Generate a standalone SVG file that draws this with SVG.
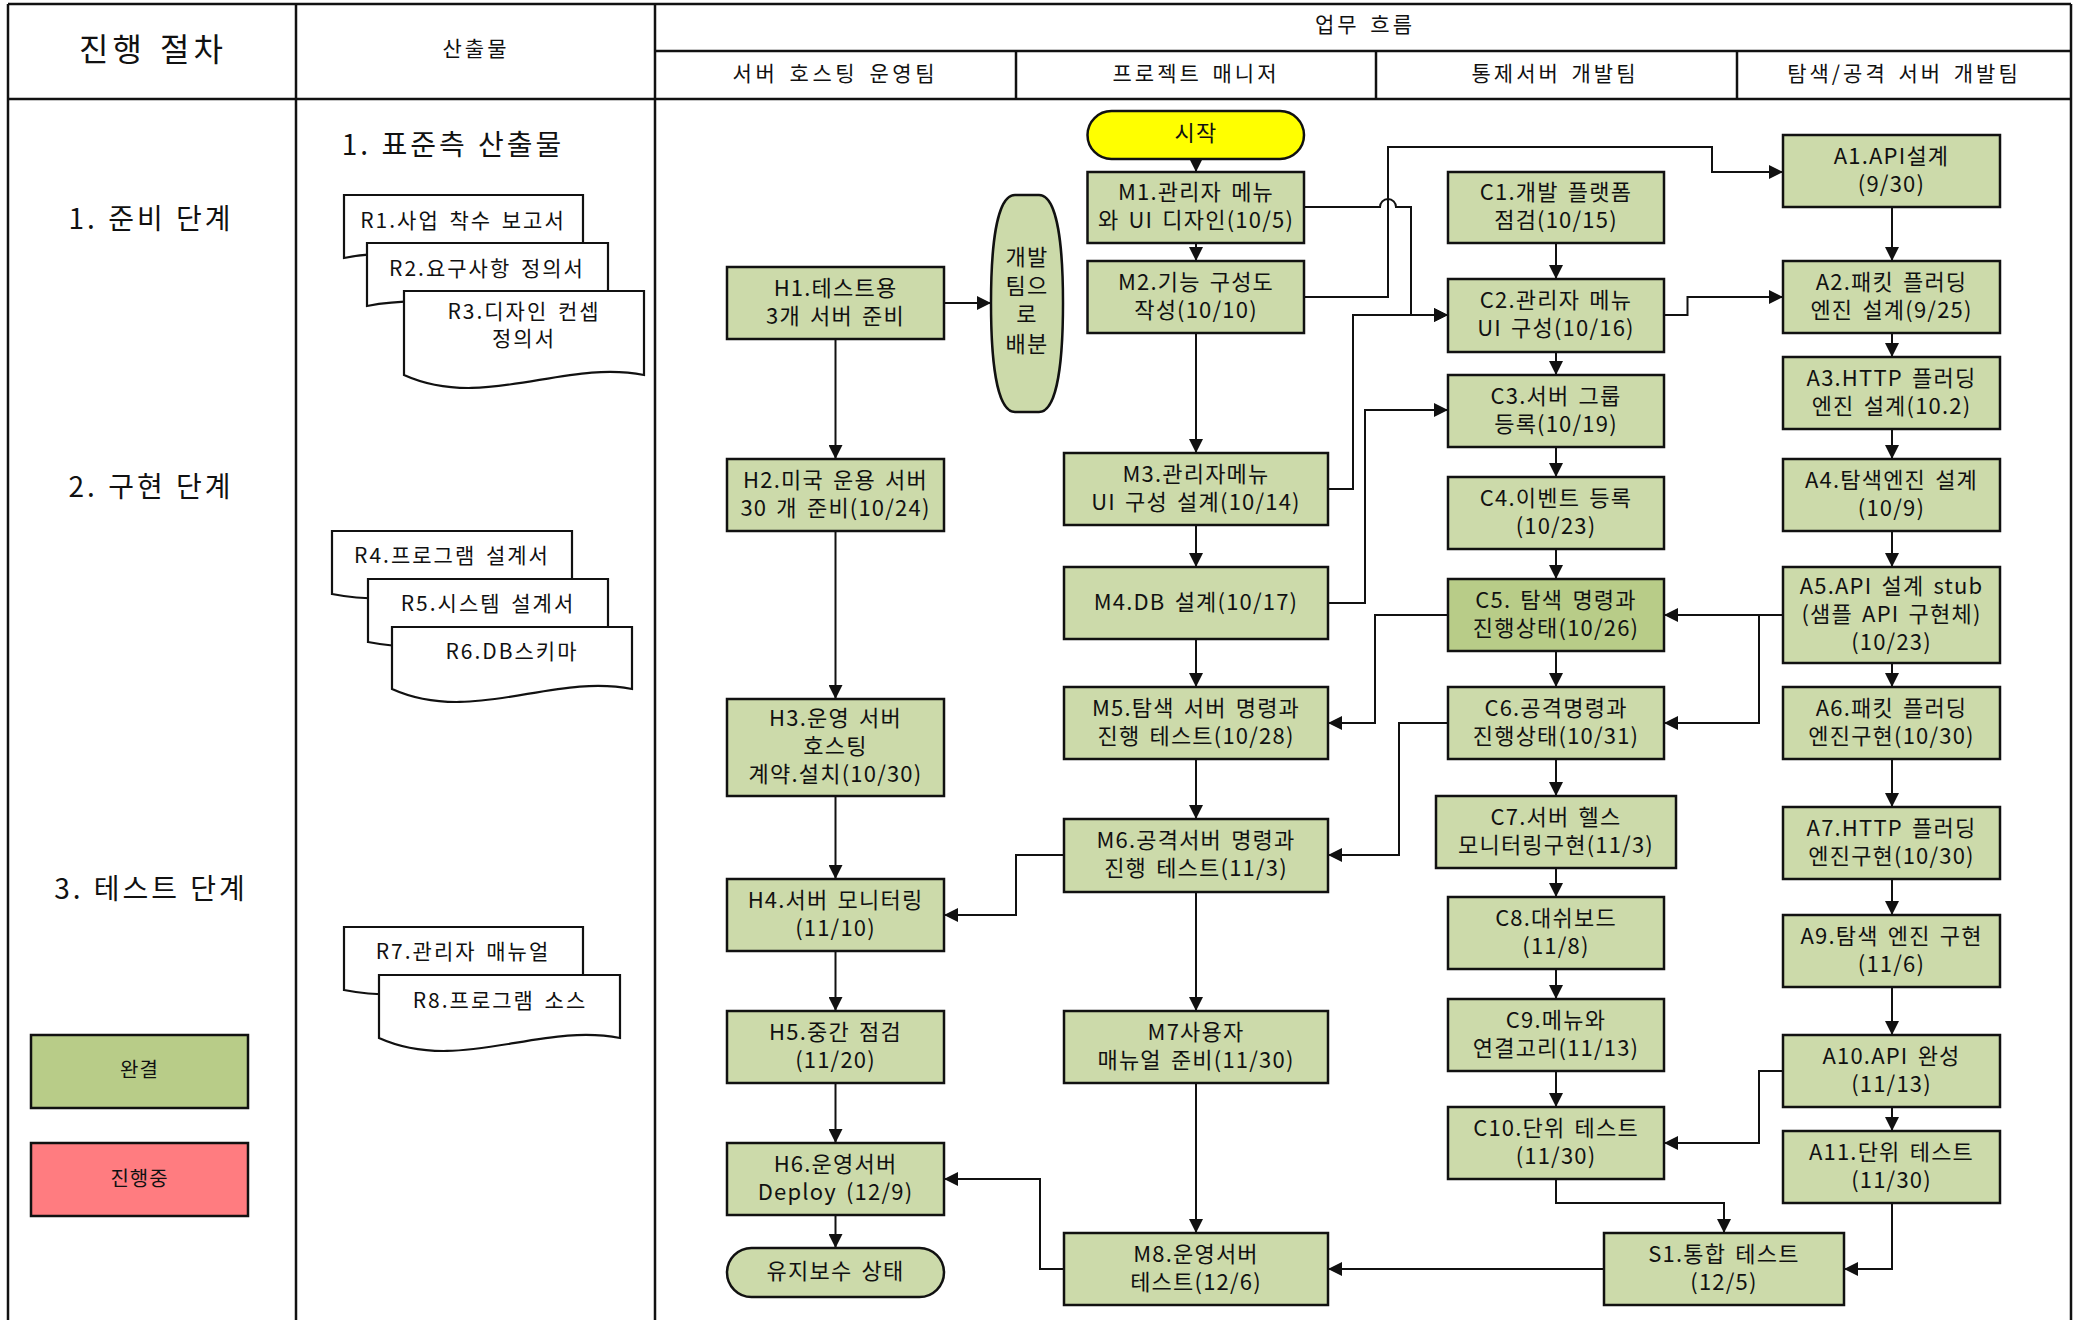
<svg xmlns="http://www.w3.org/2000/svg" width="2087" height="1320" viewBox="0 0 2087 1320">
<style>
.frame{fill:none;stroke:#111;stroke-width:2.5}
.box{fill:#ccdaaa;stroke:#111;stroke-width:2.5}
.done{fill:#b8cc88}
.prog{fill:#ff7c80}
.start{fill:#ffff00;stroke:#111;stroke-width:2.5}
.doc{fill:#fff;stroke:#111;stroke-width:2.2}
.c{fill:none;stroke:#111;stroke-width:2}
text{font-family:"Noto Sans CJK KR","Noto Sans",sans-serif;fill:#111;text-anchor:middle;dominant-baseline:central;transform:translateY(-3px)}
.t{font-size:22px;letter-spacing:1.2px;word-spacing:3px}
.h{font-size:21px;letter-spacing:3px;word-spacing:3px}
.big{font-size:28px;letter-spacing:3px;word-spacing:1px}
.title{font-size:32px;letter-spacing:4px;word-spacing:3px}
.r{font-size:21px;letter-spacing:2px;word-spacing:3px}
.lg{font-size:20px;letter-spacing:1px}
</style>
<defs>
<marker id="ah" markerUnits="userSpaceOnUse" markerWidth="14" markerHeight="14" refX="14" refY="7" orient="auto">
<path d="M0,0 L14,7 L0,14 Z" fill="#111"/>
</marker>
</defs>

<g id="frame">
<line class="frame" x1="8" y1="4" x2="2071" y2="4"/>
<line class="frame" x1="8" y1="99" x2="2071" y2="99"/>
<line class="frame" x1="655" y1="51" x2="2071" y2="51"/>
<line class="frame" x1="8" y1="4" x2="8" y2="1320"/>
<line class="frame" x1="296" y1="4" x2="296" y2="1320"/>
<line class="frame" x1="655" y1="4" x2="655" y2="1320"/>
<line class="frame" x1="2071" y1="4" x2="2071" y2="1320"/>
<line class="frame" x1="1016" y1="51" x2="1016" y2="99"/>
<line class="frame" x1="1376" y1="51" x2="1376" y2="99"/>
<line class="frame" x1="1737" y1="51" x2="1737" y2="99"/>
<text class="title" x="153" y="50">진행 절차</text>
<text class="h" x="476" y="50">산출물</text>
<text class="h" x="1365" y="26">업무 흐름</text>
<text class="h" x="835" y="75" textLength="205">서버 호스팅 운영팀</text>
<text class="h" x="1196" y="75">프로젝트 매니저</text>
<text class="h" x="1555" y="75">통제서버 개발팀</text>
<text class="h" x="1904" y="75">탐색/공격 서버 개발팀</text>
<text class="big" x="151" y="220">1. 준비 단계</text>
<text class="big" x="151" y="488">2. 구현 단계</text>
<text class="big" x="151" y="890">3. 테스트 단계</text>
<text class="big" x="453" y="146">1. 표준측 산출물</text>
</g>

<g id="legend">
<g id="legend-done"><rect class="box done" x="31" y="1035" width="217" height="73"/><text class="lg" x="139.5" y="1071">완결</text></g>
<g id="legend-progress"><rect class="box prog" x="31" y="1143" width="217" height="73"/><text class="lg" x="139.5" y="1180">진행중</text></g>
</g>

<g id="documents">
<g id="R1"><path class="doc" d="M344,258 V195 H583 V258 C503,274 424,242 344,258 Z"/><text class="r" x="463" y="222">R1.사업 착수 보고서</text></g>
<g id="R2"><path class="doc" d="M367,306 V243 H608 V306 C528,322 447,290 367,306 Z"/><text class="r" x="487" y="270">R2.요구사항 정의서</text></g>
<g id="R3"><path class="doc" d="M404,375 V291 H644 V375 C564,359 484,411 404,375 Z"/><text class="r" x="524" y="313">R3.디자인 컨셉</text><text class="r" x="524" y="340">정의서</text></g>
<g id="R4"><path class="doc" d="M332,594 V531 H572 V594 C492,578 412,610 332,594 Z"/><text class="r" x="452" y="557">R4.프로그램 설계서</text></g>
<g id="R5"><path class="doc" d="M368,642 V579 H608 V642 C528,626 448,658 368,642 Z"/><text class="r" x="488" y="605">R5.시스템 설계서</text></g>
<g id="R6"><path class="doc" d="M392,689 V627 H632 V689 C552,673 472,725 392,689 Z"/><text class="r" x="512" y="653">R6.DB스키마</text></g>
<g id="R7"><path class="doc" d="M344,990 V927 H583 V990 C503,974 424,1006 344,990 Z"/><text class="r" x="463" y="953">R7.관리자 매뉴얼</text></g>
<g id="R8"><path class="doc" d="M379,1038 V975 H620 V1038 C540,1022 459,1074 379,1038 Z"/><text class="r" x="500" y="1002">R8.프로그램 소스</text></g>
</g>

<g id="connectors">
<path class="c" marker-end="url(#ah)" d="M1196,159 V172"/>
<path class="c" marker-end="url(#ah)" d="M1196,243 V261"/>
<path class="c" marker-end="url(#ah)" d="M944,303 H991"/>
<path class="c" marker-end="url(#ah)" d="M835.5,339 V459"/>
<path class="c" marker-end="url(#ah)" d="M835.5,531 V699"/>
<path class="c" marker-end="url(#ah)" d="M835.5,796 V879"/>
<path class="c" marker-end="url(#ah)" d="M835.5,951 V1011"/>
<path class="c" marker-end="url(#ah)" d="M835.5,1083 V1143"/>
<path class="c" marker-end="url(#ah)" d="M835.5,1215 V1248"/>
<path class="c" marker-end="url(#ah)" d="M1196,333 V453"/>
<path class="c" marker-end="url(#ah)" d="M1196,525 V567"/>
<path class="c" marker-end="url(#ah)" d="M1196,639 V687"/>
<path class="c" marker-end="url(#ah)" d="M1196,759 V819"/>
<path class="c" marker-end="url(#ah)" d="M1196,892 V1011"/>
<path class="c" marker-end="url(#ah)" d="M1196,1083 V1233"/>
<path class="c" marker-end="url(#ah)" d="M1304,297 H1388 V147 H1712 V172 H1783"/>
<path class="c" marker-end="url(#ah)" d="M1304,207 H1380 A8,8 0 0 1 1396,207 H1411 V315 H1448"/>
<path class="c" marker-end="url(#ah)" d="M1328,489 H1353 V315 H1448"/>
<path class="c" marker-end="url(#ah)" d="M1328,603 H1365 V410 H1448"/>
<path class="c" marker-end="url(#ah)" d="M1556,243 V279"/>
<path class="c" marker-end="url(#ah)" d="M1556,352 V375"/>
<path class="c" marker-end="url(#ah)" d="M1556,447 V477"/>
<path class="c" marker-end="url(#ah)" d="M1556,549 V579"/>
<path class="c" marker-end="url(#ah)" d="M1556,651 V687"/>
<path class="c" marker-end="url(#ah)" d="M1556,759 V796"/>
<path class="c" marker-end="url(#ah)" d="M1556,868 V897"/>
<path class="c" marker-end="url(#ah)" d="M1556,969 V999"/>
<path class="c" marker-end="url(#ah)" d="M1556,1071 V1107"/>
<path class="c" marker-end="url(#ah)" d="M1664,315 H1687.5 V297 H1783"/>
<path class="c" marker-end="url(#ah)" d="M1892,207 V261"/>
<path class="c" marker-end="url(#ah)" d="M1892,333 V357"/>
<path class="c" marker-end="url(#ah)" d="M1892,429 V459"/>
<path class="c" marker-end="url(#ah)" d="M1892,531 V567"/>
<path class="c" marker-end="url(#ah)" d="M1892,663 V687"/>
<path class="c" marker-end="url(#ah)" d="M1892,759 V807"/>
<path class="c" marker-end="url(#ah)" d="M1892,879 V915"/>
<path class="c" marker-end="url(#ah)" d="M1892,987 V1035"/>
<path class="c" marker-end="url(#ah)" d="M1892,1107 V1131"/>
<path class="c" marker-end="url(#ah)" d="M1783,615 H1664"/>
<path class="c" marker-end="url(#ah)" d="M1759,615 V723 H1664"/>
<path class="c" marker-end="url(#ah)" d="M1448,615 H1375 V723 H1328"/>
<path class="c" marker-end="url(#ah)" d="M1448,723 H1399 V855 H1328"/>
<path class="c" marker-end="url(#ah)" d="M1064,855 H1016 V915 H944"/>
<path class="c" marker-end="url(#ah)" d="M1783,1071 H1759 V1143 H1664"/>
<path class="c" marker-end="url(#ah)" d="M1556,1179 V1203 H1724 V1233"/>
<path class="c" marker-end="url(#ah)" d="M1892,1203 V1269 H1844"/>
<path class="c" marker-end="url(#ah)" d="M1604,1269 H1328"/>
<path class="c" marker-end="url(#ah)" d="M1064,1269 H1040 V1179 H944"/>
</g>

<g id="H1"><rect class="box" x="727" y="267" width="217" height="72"/><text class="t" x="835.5" y="289">H1.테스트용</text><text class="t" x="835.5" y="317">3개 서버 준비</text></g>
<g id="H2"><rect class="box" x="727" y="459" width="217" height="72"/><text class="t" x="835.5" y="481">H2.미국 운용 서버</text><text class="t" x="835.5" y="509">30 개 준비(10/24)</text></g>
<g id="H3"><rect class="box" x="727" y="699" width="217" height="97"/><text class="t" x="835.5" y="719">H3.운영 서버</text><text class="t" x="835.5" y="747">호스팅</text><text class="t" x="835.5" y="775">계약.설치(10/30)</text></g>
<g id="H4"><rect class="box" x="727" y="879" width="217" height="72"/><text class="t" x="835.5" y="901">H4.서버 모니터링</text><text class="t" x="835.5" y="929">(11/10)</text></g>
<g id="H5"><rect class="box" x="727" y="1011" width="217" height="72"/><text class="t" x="835.5" y="1033">H5.중간 점검</text><text class="t" x="835.5" y="1061">(11/20)</text></g>
<g id="H6"><rect class="box" x="727" y="1143" width="217" height="72"/><text class="t" x="835.5" y="1165">H6.운영서버</text><text class="t" x="835.5" y="1193">Deploy (12/9)</text></g>
<g id="END"><rect class="box" x="727" y="1248" width="217" height="49" rx="24.5"/><text class="t" x="835.5" y="1272">유지보수 상태</text></g>

<g id="DIST"><path class="box" d="M1015,195 L1039,195 C1058,195 1063,250 1063,303 C1063,357 1058,412 1039,412 L1015,412 C996,412 991,357 991,303 C991,250 996,195 1015,195 Z"/><text class="t" x="1027" y="258">개발</text><text class="t" x="1027" y="287">팀으</text><text class="t" x="1027" y="315">로</text><text class="t" x="1027" y="345">배분</text></g>

<g id="START"><rect class="start" x="1087.5" y="111" width="216.5" height="48" rx="24"/><text class="t" x="1196" y="134">시작</text></g>
<g id="M1"><rect class="box" x="1087.5" y="172" width="216.5" height="71"/><text class="t" x="1196" y="193">M1.관리자 메뉴</text><text class="t" x="1196" y="221">와 UI 디자인(10/5)</text></g>
<g id="M2"><rect class="box" x="1087.5" y="261" width="216.5" height="72"/><text class="t" x="1196" y="283">M2.기능 구성도</text><text class="t" x="1196" y="311">작성(10/10)</text></g>
<g id="M3"><rect class="box" x="1064" y="453" width="264" height="72"/><text class="t" x="1196" y="475">M3.관리자메뉴</text><text class="t" x="1196" y="503">UI 구성 설계(10/14)</text></g>
<g id="M4"><rect class="box" x="1064" y="567" width="264" height="72"/><text class="t" x="1196" y="603">M4.DB 설계(10/17)</text></g>
<g id="M5"><rect class="box" x="1064" y="687" width="264" height="72"/><text class="t" x="1196" y="709">M5.탐색 서버 명령과</text><text class="t" x="1196" y="737">진행 테스트(10/28)</text></g>
<g id="M6"><rect class="box" x="1064" y="819" width="264" height="73"/><text class="t" x="1196" y="841">M6.공격서버 명령과</text><text class="t" x="1196" y="869">진행 테스트(11/3)</text></g>
<g id="M7"><rect class="box" x="1064" y="1011" width="264" height="72"/><text class="t" x="1196" y="1033">M7사용자</text><text class="t" x="1196" y="1061">매뉴얼 준비(11/30)</text></g>
<g id="M8"><rect class="box" x="1064" y="1233" width="264" height="72"/><text class="t" x="1196" y="1255">M8.운영서버</text><text class="t" x="1196" y="1283">테스트(12/6)</text></g>

<g id="C1"><rect class="box" x="1448" y="172" width="216" height="71"/><text class="t" x="1556" y="193">C1.개발 플랫폼</text><text class="t" x="1556" y="221">점검(10/15)</text></g>
<g id="C2"><rect class="box" x="1448" y="279" width="216" height="73"/><text class="t" x="1556" y="301">C2.관리자 메뉴</text><text class="t" x="1556" y="329">UI 구성(10/16)</text></g>
<g id="C3"><rect class="box" x="1448" y="375" width="216" height="72"/><text class="t" x="1556" y="397">C3.서버 그룹</text><text class="t" x="1556" y="425">등록(10/19)</text></g>
<g id="C4"><rect class="box" x="1448" y="477" width="216" height="72"/><text class="t" x="1556" y="499">C4.이벤트 등록</text><text class="t" x="1556" y="527">(10/23)</text></g>
<g id="C5"><rect class="box done" x="1448" y="579" width="216" height="72"/><text class="t" x="1556" y="601">C5. 탐색 명령과</text><text class="t" x="1556" y="629">진행상태(10/26)</text></g>
<g id="C6"><rect class="box" x="1448" y="687" width="216" height="72"/><text class="t" x="1556" y="709">C6.공격명령과</text><text class="t" x="1556" y="737">진행상태(10/31)</text></g>
<g id="C7"><rect class="box" x="1436" y="796" width="240" height="72"/><text class="t" x="1556" y="818">C7.서버 헬스</text><text class="t" x="1556" y="846">모니터링구현(11/3)</text></g>
<g id="C8"><rect class="box" x="1448" y="897" width="216" height="72"/><text class="t" x="1556" y="919">C8.대쉬보드</text><text class="t" x="1556" y="947">(11/8)</text></g>
<g id="C9"><rect class="box" x="1448" y="999" width="216" height="72"/><text class="t" x="1556" y="1021">C9.메뉴와</text><text class="t" x="1556" y="1049">연결고리(11/13)</text></g>
<g id="C10"><rect class="box" x="1448" y="1107" width="216" height="72"/><text class="t" x="1556" y="1129">C10.단위 테스트</text><text class="t" x="1556" y="1157">(11/30)</text></g>

<g id="S1"><rect class="box" x="1604" y="1233" width="240" height="72"/><text class="t" x="1724" y="1255">S1.통합 테스트</text><text class="t" x="1724" y="1283">(12/5)</text></g>

<g id="A1"><rect class="box" x="1783" y="135" width="217" height="72"/><text class="t" x="1891.5" y="157">A1.API설계</text><text class="t" x="1891.5" y="185">(9/30)</text></g>
<g id="A2"><rect class="box" x="1783" y="261" width="217" height="72"/><text class="t" x="1891.5" y="283">A2.패킷 플러딩</text><text class="t" x="1891.5" y="311">엔진 설계(9/25)</text></g>
<g id="A3"><rect class="box" x="1783" y="357" width="217" height="72"/><text class="t" x="1891.5" y="379">A3.HTTP 플러딩</text><text class="t" x="1891.5" y="407">엔진 설계(10.2)</text></g>
<g id="A4"><rect class="box" x="1783" y="459" width="217" height="72"/><text class="t" x="1891.5" y="481">A4.탐색엔진 설계</text><text class="t" x="1891.5" y="509">(10/9)</text></g>
<g id="A5"><rect class="box" x="1783" y="567" width="217" height="96"/><text class="t" x="1891.5" y="587">A5.API 설계 stub</text><text class="t" x="1891.5" y="615">(샘플 API 구현체)</text><text class="t" x="1891.5" y="643">(10/23)</text></g>
<g id="A6"><rect class="box" x="1783" y="687" width="217" height="72"/><text class="t" x="1891.5" y="709">A6.패킷 플러딩</text><text class="t" x="1891.5" y="737">엔진구현(10/30)</text></g>
<g id="A7"><rect class="box" x="1783" y="807" width="217" height="72"/><text class="t" x="1891.5" y="829">A7.HTTP  플러딩</text><text class="t" x="1891.5" y="857">엔진구현(10/30)</text></g>
<g id="A9"><rect class="box" x="1783" y="915" width="217" height="72"/><text class="t" x="1891.5" y="937">A9.탐색 엔진 구현</text><text class="t" x="1891.5" y="965">(11/6)</text></g>
<g id="A10"><rect class="box" x="1783" y="1035" width="217" height="72"/><text class="t" x="1891.5" y="1057">A10.API 완성</text><text class="t" x="1891.5" y="1085">(11/13)</text></g>
<g id="A11"><rect class="box" x="1783" y="1131" width="217" height="72"/><text class="t" x="1891.5" y="1153">A11.단위 테스트</text><text class="t" x="1891.5" y="1181">(11/30)</text></g>
</svg>
